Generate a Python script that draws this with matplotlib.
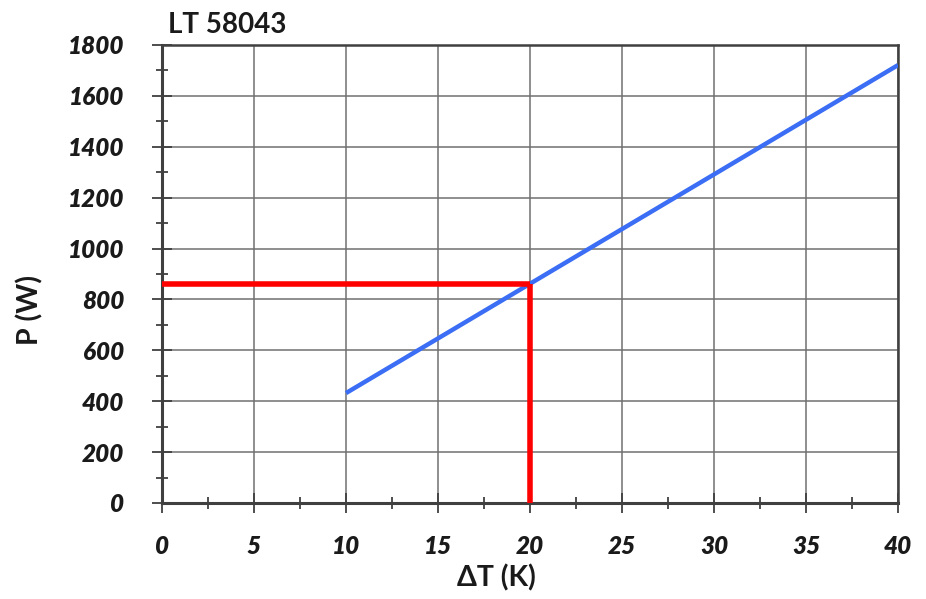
import matplotlib
matplotlib.use("Agg")
import matplotlib.pyplot as plt
from matplotlib.ticker import MultipleLocator

title = "LT 58043"
dT = [10, 40]
P = [432, 1721]
op_dT = 20
op_P = 861
x_ticks = [0, 5, 10, 15, 20, 25, 30, 35, 40]
y_ticks = [0, 200, 400, 600, 800, 1000, 1200, 1400, 1600, 1800]

plt.rcParams['font.family'] = ['Lato', 'DejaVu Sans']

fig = plt.figure(figsize=(9.26, 5.99), dpi=100)
ax = fig.add_axes([162/926, 1-503/599, (898-162)/926, (503-45)/599])

ax.plot(dT, P, color='#3b6ef5', lw=3.2, solid_capstyle='butt', zorder=3)
ax.plot([0, op_dT], [op_P, op_P], color='#ff0000', lw=4, solid_capstyle='butt', zorder=4)
ax.plot([op_dT, op_dT], [0, op_P], color='#ff0000', lw=4, solid_capstyle='butt', zorder=4)

ax.set_xlim(0, 40)
ax.set_ylim(0, 1800)
ax.set_xticks(x_ticks)
ax.set_yticks(y_ticks)
ax.xaxis.set_minor_locator(MultipleLocator(2.5))
ax.yaxis.set_minor_locator(MultipleLocator(100))
ax.grid(True, which='major', color='#707070', lw=1.1)
ax.set_axisbelow(True)

ax.tick_params(which='major', direction='inout', length=14, width=1.3, color='#404040')
ax.tick_params(which='minor', direction='inout', length=9, width=1.3, color='#404040')
ax.tick_params(axis='y', pad=20)
ax.tick_params(axis='x', pad=16)
for lbl in ax.get_xticklabels() + ax.get_yticklabels():
    lbl.set_fontsize(17.5)
    lbl.set_fontweight('heavy')
    lbl.set_fontstyle('italic')
    lbl.set_color('#1a1a1a')

for side in ['left', 'bottom']:
    ax.spines[side].set_linewidth(2.2)
    ax.spines[side].set_color('#404040')
for side in ['right', 'top']:
    ax.spines[side].set_linewidth(1.8)
    ax.spines[side].set_color('#404040')

fig.text(168/926, 1-25/599, title, fontsize=20, fontweight='bold', color='#1a1a1a', ha='left', va='center')
fig.text(30/926, 1-310/599, "P (W)", fontsize=20.5, fontweight='bold', color='#1a1a1a', rotation=90, ha='center', va='center')
fig.text(496/926, 1-578/599, "ΔT (K)", fontsize=20.5, fontweight='bold', color='#1a1a1a', ha='center', va='center')

fig.savefig("out.png", dpi=100, facecolor='white')
